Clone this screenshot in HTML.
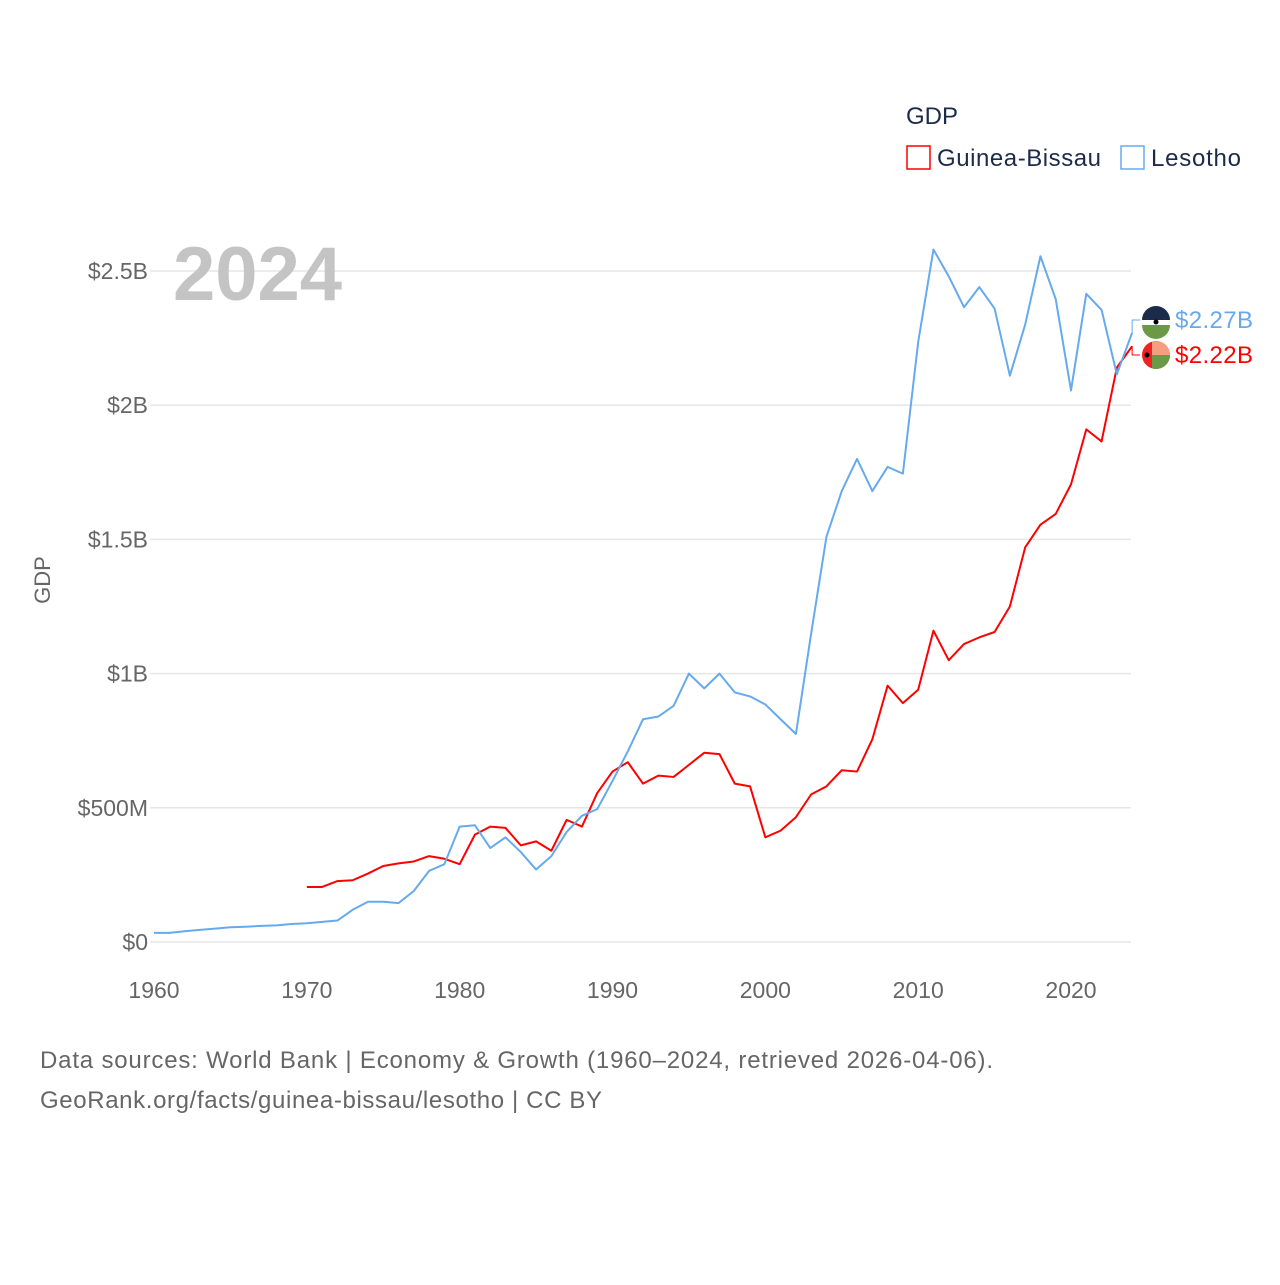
<!DOCTYPE html>
<html><head><meta charset="utf-8"><style>
body{margin:0;background:#fff;font-family:"Liberation Sans",sans-serif}
svg text{font-family:"Liberation Sans",sans-serif}
</style></head><body>
<svg width="1280" height="1280" viewBox="0 0 1280 1280">
<rect width="1280" height="1280" fill="#fff"/>
<g id="grid"></g>
<g id="yticks"></g>
<g id="xticks"></g>
<text x="50" y="580" transform="rotate(-90 50 580)" text-anchor="middle" font-size="22" fill="#666">GDP</text>
<text x="173" y="300" font-size="76" font-weight="bold" fill="#c4c4c4">2024</text>
<text x="906" y="124" font-size="24" fill="#1c2b4a">GDP</text>
<g>
<rect x="907" y="146" width="23" height="23" fill="#fff" stroke="#ff0000" stroke-width="1.5"/>
<text x="937" y="166" font-size="24" fill="#1c2b4a" textLength="164">Guinea-Bissau</text></g>
<g>
<rect x="1121" y="146" width="23" height="23" fill="#fff" stroke="#66aaee" stroke-width="1.5"/>
<text x="1151" y="166" font-size="24" fill="#1c2b4a" textLength="90">Lesotho</text></g>
<g id="series"></g>
<g id="labels"></g>
<text x="40" y="1068" font-size="24" fill="#666" textLength="953">Data sources: World Bank | Economy &amp; Growth (1960–2024, retrieved 2026-04-06).</text>
<text x="40" y="1108" font-size="24" fill="#666" textLength="562">GeoRank.org/facts/guinea-bissau/lesotho | CC BY</text>
</svg>
<script>
const lesYears=[];for(let y=1960;y<=2024;y++)lesYears.push(y);
const lesotho=[0.034,0.034,0.04,0.045,0.05,0.055,0.057,0.06,0.062,0.067,0.07,0.075,0.08,0.12,0.15,0.15,0.145,0.19,0.265,0.29,0.43,0.435,0.35,0.39,0.335,0.27,0.32,0.41,0.47,0.495,0.6,0.71,0.83,0.84,0.88,1.0,0.945,1.0,0.93,0.915,0.885,0.83,0.775,1.15,1.51,1.68,1.8,1.68,1.77,1.745,2.235,2.58,2.48,2.365,2.44,2.36,2.11,2.3,2.555,2.395,2.055,2.415,2.355,2.115,2.27];
const gbYears=[];for(let y=1970;y<=2024;y++)gbYears.push(y);
const guineaBissau=[0.205,0.205,0.227,0.23,0.255,0.283,0.293,0.3,0.32,0.31,0.29,0.4,0.43,0.425,0.36,0.375,0.34,0.455,0.43,0.555,0.635,0.67,0.59,0.62,0.615,0.66,0.705,0.7,0.59,0.58,0.39,0.415,0.465,0.55,0.58,0.64,0.635,0.755,0.955,0.89,0.94,1.16,1.05,1.11,1.135,1.155,1.25,1.47,1.555,1.595,1.705,1.91,1.865,2.14,2.22];
const yTickVals=[0,0.5,1,1.5,2,2.5];
const yTickLabels=["$0","$500M","$1B","$1.5B","$2B","$2.5B"];
const xTickVals=[1960,1970,1980,1990,2000,2010,2020];
const NS='http://www.w3.org/2000/svg';
const X=y=>154+(y-1960)*(1071-154)/60;
const Y=v=>942-v*268.4;
function mk(t,a,p){const e=document.createElementNS(NS,t);for(const k in a)e.setAttribute(k,a[k]);p.appendChild(e);return e;}
const grid=document.getElementById('grid'),yt=document.getElementById('yticks'),xt=document.getElementById('xticks');
yTickVals.forEach((v,i)=>{
 const l=mk('line',{x1:150,x2:1131,y1:Y(v),y2:Y(v),stroke:'#e6e6e6','stroke-width':1.5},grid);
 
 
 const t=mk('text',{x:148,y:Y(v)+8,'text-anchor':'end','font-size':23,fill:'#666'},yt);
 t.textContent=yTickLabels[i];
 
 
});
xTickVals.forEach(v=>{
 const t=mk('text',{x:X(v),y:998,'text-anchor':'middle','font-size':23,fill:'#666'},xt);
 t.textContent=v;
 
 
});
const s=document.getElementById('series');
function line(years,vals,color,name){
 const p=mk('polyline',{points:years.map((y,i)=>X(y)+','+Y(vals[i])).join(' '),fill:'none',stroke:color,'stroke-width':2,'stroke-linejoin':'round'},s);
 
 
}
line(gbYears,guineaBissau,'#ff0000','line-guinea-bissau');
line(lesYears,lesotho,'#66aaee','line-lesotho');
const lb=document.getElementById('labels');
function endLabel(v,ly,color,txt,name,flag){
 const ex=X(2024),ey=Y(v);
 mk('polyline',{points:`${ex},${ey} ${ex},${ly} ${ex+8},${ly}`,fill:'none',stroke:color,'stroke-width':1},lb);
 const g=mk('g',{},lb);
 
 
 flag(g,1156,ly);
 const t=mk('text',{x:1175,y:ly+8,'font-size':24,fill:color,textLength:78},g);t.textContent=txt;
}
endLabel(lesotho[lesotho.length-1],320,'#66aaee','$2.27B','end-label-lesotho',(g,cx,cy)=>{
 mk('circle',{cx,cy,r:14,fill:'#fff'},g);
 mk('path',{d:`M${cx-14},${cy} A14,14 0 0 1 ${cx+14},${cy} Z`,fill:'#1c2b4a'},g);
 mk('path',{d:`M${cx-14},${cy+5} L${cx+14},${cy+5} A14,14 0 0 1 ${cx-14},${cy+5} Z`,fill:'#6a9a45'},g);
 mk('circle',{cx,cy:cy+2,r:2.5,fill:'#000'},g);
});
endLabel(guineaBissau[guineaBissau.length-1],355,'#ff0000','$2.22B','end-label-guinea-bissau',(g,cx,cy)=>{
 mk('circle',{cx,cy,r:14,fill:'#ee2222'},g);
 mk('path',{d:`M${cx-4},${cy-13.4} A14,14 0 0 1 ${cx+14},${cy} L${cx-4},${cy} Z`,fill:'#f4a080'},g);
 mk('path',{d:`M${cx-4},${cy} L${cx+14},${cy} A14,14 0 0 1 ${cx-4},${cy+13.4} Z`,fill:'#6a9a45'},g);
 mk('circle',{cx:cx-9,cy,r:2.5,fill:'#000'},g);
});
</script>
</body></html>
